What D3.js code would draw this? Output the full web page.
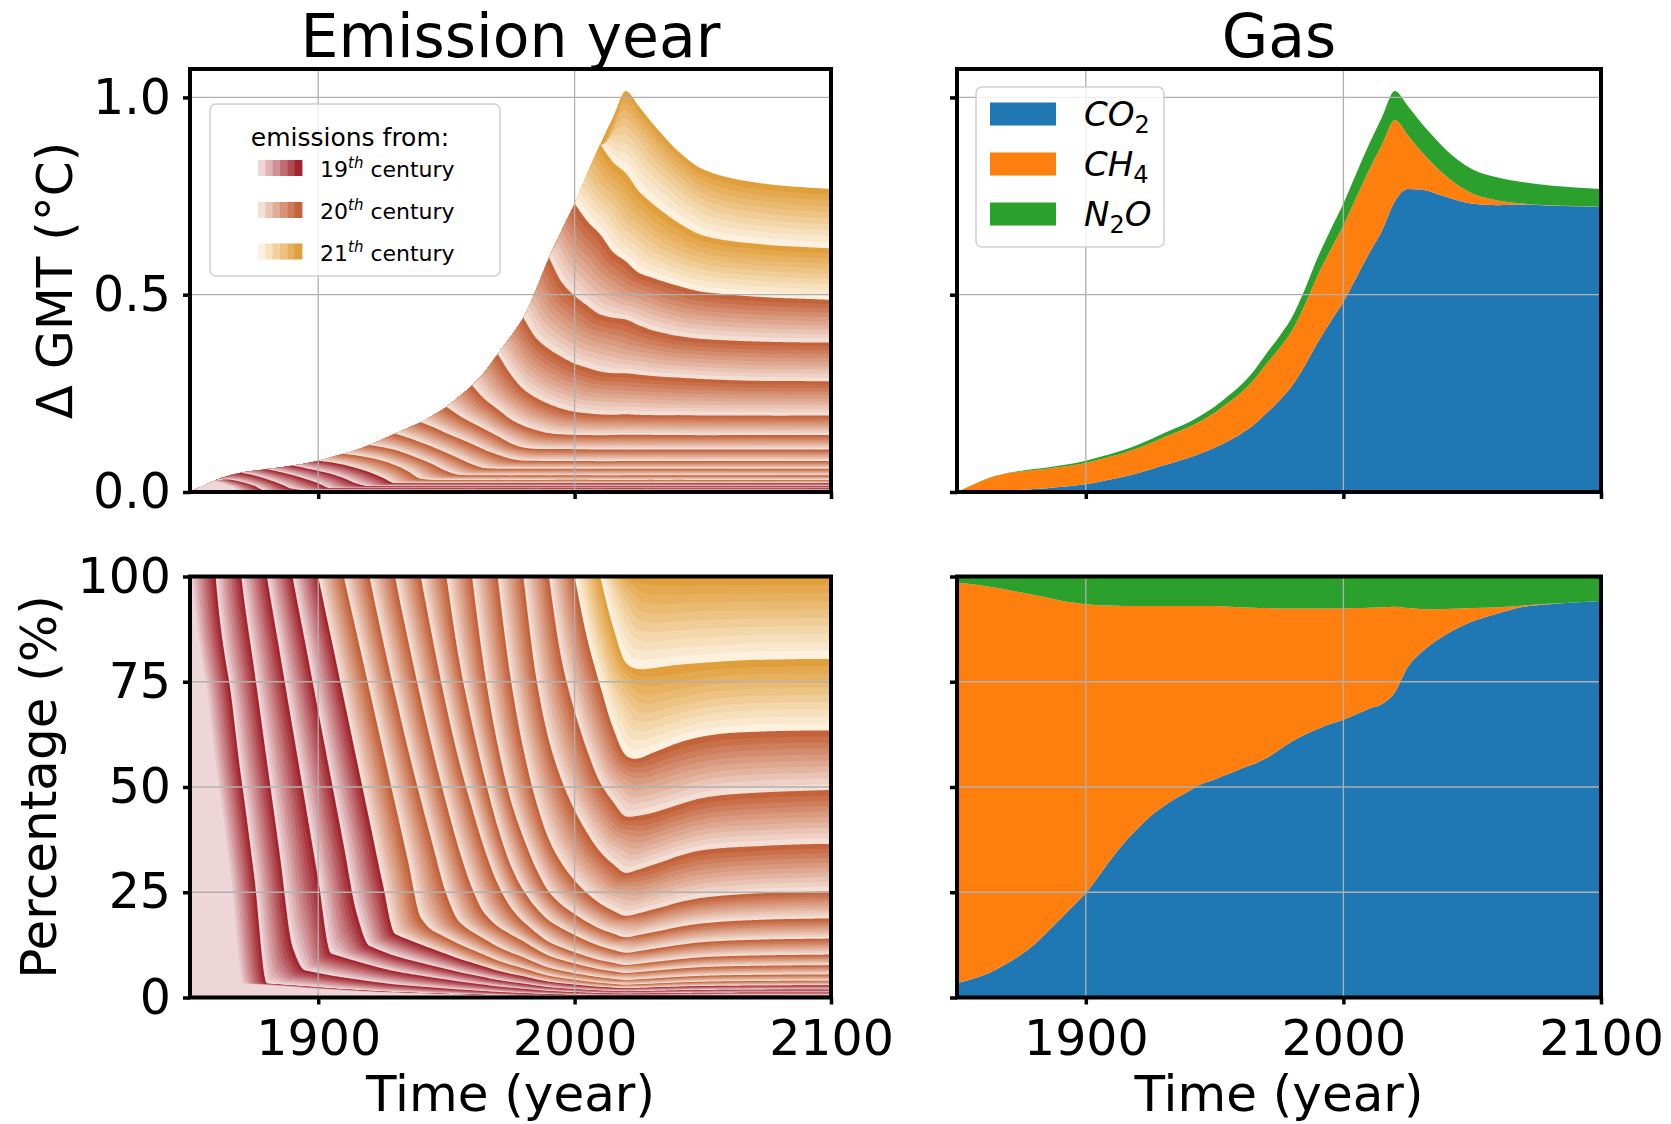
<!DOCTYPE html>
<html><head><meta charset="utf-8">
<script src="https://cdn.jsdelivr.net/npm/d3@7"></script>
<style>
body{margin:0;background:#fff}
svg{display:block}
text{font-family:"DejaVu Sans",sans-serif;fill:#000}
</style>
</head><body>
<svg id="c" width="1671" height="1124"></svg>
<script>
// ---------------- data ----------------
const years = [1850,1855,1860,1865,1870,1875,1880,1885,1890,1895,1900,1905,1910,1915,1920,1925,1930,1935,1940,1945,1950,1955,1960,1965,1970,1975,1980,1985,1990,1995,2000,2005,2010,2015,2020,2025,2030,2035,2040,2050,2060,2070,2080,2090,2100];
// total warming (°C)
const totalGMT = [0,0.015,0.030,0.041,0.049,0.054,0.058,0.062,0.067,0.072,0.079,0.088,0.097,0.107,0.119,0.133,0.148,0.162,0.177,0.195,0.216,0.242,0.270,0.305,0.350,0.393,0.442,0.513,0.594,0.664,0.731,0.807,0.882,0.950,1.016,0.978,0.937,0.900,0.866,0.818,0.797,0.785,0.777,0.772,0.768];
// share (%) of warming caused by emissions before each decade boundary, from that boundary year onward
const cohortYears = [1860,1870,1880,1890,1900,1910,1920,1930,1940,1950,1960,1970,1980,1990,2000,2010];
const pct1860 = [100,76,52,29,3.31,3.10,2.87,2.67,2.43,2.18,1.98,1.80,1.61,1.44,1.30,1.18,1.08,0.98,0.89,0.79,0.71,0.63,0.55,0.49,0.43,0.37,0.32,0.29,0.26,0.24,0.22,0.20,0.19,0.20,0.20,0.21,0.22,0.23,0.24,0.245,0.247,0.249,0.25];
const pct1870 = [100,78,56,34,12,6.39,5.82,5.23,4.74,4.30,3.86,3.46,3.11,2.84,2.60,2.36,2.13,1.90,1.70,1.51,1.32,1.17,1.04,0.90,0.77,0.69,0.63,0.57,0.52,0.48,0.45,0.47,0.49,0.51,0.53,0.56,0.58,0.586,0.59,0.596,0.6];
const pct1880 = [100,82,64,46,28,10.45,9.49,8.60,7.73,6.92,6.22,5.68,5.20,4.72,4.26,3.80,3.40,3.02,2.63,2.34,2.08,1.79,1.55,1.39,1.26,1.14,1.04,0.97,0.91,0.94,0.98,1.02,1.06,1.12,1.15,1.17,1.18,1.19,1.2];
const pct1890 = [100,84,68,52,36,20,12.26,10.98,9.87,9.01,8.25,7.49,6.76,6.03,5.40,4.79,4.18,3.71,3.30,2.85,2.45,2.20,2.00,1.81,1.65,1.53,1.44,1.49,1.56,1.62,1.69,1.78,1.83,1.86,1.88,1.89,1.9];
const pct1900 = [100,85.5,71,56.5,42,27.5,15.07,13.76,12.60,11.44,10.32,9.21,8.25,7.31,6.38,5.66,5.04,4.35,3.75,3.37,3.06,2.77,2.52,2.34,2.19,2.28,2.38,2.48,2.58,2.72,2.80,2.84,2.87,2.89,2.9];
const pct1910 = [100,86.5,73,59.5,46,32.5,19,15.75,14.21,12.68,11.36,10.07,8.78,7.80,6.94,5.99,5.16,4.64,4.21,3.81,3.47,3.22,3.02,3.14,3.28,3.41,3.55,3.75,3.85,3.91,3.95,3.98,4.0];
const pct1920 = [100,85.5,72,59,47,35.5,24.5,18,15.61,13.84,12.07,10.72,9.54,8.23,7.09,6.37,5.78,5.23,4.77,4.43,4.15,4.31,4.50,4.69,4.87,5.16,5.30,5.38,5.43,5.46,5.5];
const pct1930 = [100,85,71,58,46,35,26,19.9,16.90,15.01,13.36,11.52,9.93,8.92,8.10,7.33,6.68,6.21,5.82,6.04,6.31,6.57,6.83,7.22,7.42,7.53,7.61,7.65,7.7];
const pct1940 = [100,84,69,56,45,35,27,21.5,18,15.4,13.2,11.85,10.75,9.72,8.86,8.23,7.72,8.01,8.36,8.70,9.04,9.57,9.83,9.98,10.08,10.14,10.2];
const pct1950 = [100,80,65,52,40.5,31.5,25.5,21.3,18.3,16.4,14.85,13.4,12.2,11.33,10.62,11.02,11.5,11.96,12.43,13.15,13.5,13.71,13.85,13.93,14.0];
const pct1960 = [100,77,60,47,38,30.6,25.1,22.0,19.8,17.9,16.3,15.2,14.3,14.85,15.45,16.05,16.7,17.6,18.1,18.4,18.6,18.7,18.8];
const pct1970 = [100,76,59,46.5,37.5,31.8,27.8,24.7,22.3,20.6,19.4,20.0,20.8,21.6,22.5,23.7,24.3,24.7,24.9,25.1,25.2];
const pct1980 = [100,76,61,51.5,44.5,39,34.6,31.7,29.6,30.4,31.4,32.4,33.5,35.0,35.6,35.9,36.2,36.4,36.5];
const pct1990 = [100,80,68,58.5,51,46.5,43.0,43.2,43.8,44.7,45.7,47.4,48.2,48.6,48.9,49.1,49.3];
const pct2000 = [100,85,74,64,57.5,56.8,58.0,59.2,60.4,62.0,62.8,63.1,63.3,63.4,63.4];
const pct2010 = [100,88,79.5,78.0,78.2,78.6,79.0,79.5,79.9,80.2,80.3,80.4,80.4];
// gas shares (%) of total warming
const co2Share = [3.4,4.2,5.2,6.6,8.3,10.2,12.6,15.5,18.6,21.7,24.8,28.8,33.0,36.8,40.0,43.0,45.3,47.3,49.0,50.7,51.8,53.0,54.3,55.4,56.8,58.8,60.8,62.4,63.8,65.0,66.0,67.3,68.6,69.7,72.5,78.5,81.8,84.3,86.3,89.3,91.2,92.8,93.4,93.8,94.2];
const ch4Share = [95.2,94.0,92.6,90.7,88.5,86.0,83.0,79.5,75.7,72.1,68.6,64.4,60.1,56.2,53.0,50.0,47.7,45.7,44.0,42.3,41.2,39.9,38.4,37.2,35.7,33.6,31.6,30.0,28.6,27.4,26.4,25.2,24.0,23.0,20.3,14.0,10.5,7.9,6.0,3.2,1.5,0.3,0.1,0.05,0];
const n2oShare = [1.4,1.8,2.2,2.7,3.2,3.8,4.4,5.0,5.7,6.2,6.6,6.8,6.9,7.0,7.0,7.0,7.0,7.0,7.0,7.0,7.0,7.1,7.3,7.4,7.5,7.6,7.6,7.6,7.6,7.6,7.6,7.5,7.4,7.3,7.2,7.5,7.7,7.8,7.7,7.5,7.3,6.9,6.5,6.15,5.8];
const gasNames = ["CO","CH","N"];
const gasSubs = ["2","4","2"];
const gasTails = ["","","O"];
const xTicks = [1900,2000,2100];
const yTicksGMT = [0,0.5,1.0];
const yTicksPct = [0,25,50,75,100];
const centuries = ["19","20","21"];

// ---------------- helpers ----------------
function monotone(xs, ys){
  const n = xs.length, d = [], m = new Array(n);
  for(let i=0;i<n-1;i++) d[i]=(ys[i+1]-ys[i])/(xs[i+1]-xs[i]);
  m[0]=d[0]; m[n-1]=d[n-2];
  for(let i=1;i<n-1;i++){
    if(d[i-1]*d[i]<=0) m[i]=0;
    else{const h0=xs[i]-xs[i-1],h1=xs[i+1]-xs[i],w1=2*h1+h0,w2=h1+2*h0;m[i]=(w1+w2)/(w1/d[i-1]+w2/d[i]);}
  }
  return t=>{
    if(t<=xs[0]) return ys[0];
    if(t>=xs[n-1]) return ys[n-1];
    let i=d3.bisectRight(xs,t)-1;
    const h=xs[i+1]-xs[i], s=(t-xs[i])/h, s2=s*s, s3=s2*s;
    return (2*s3-3*s2+1)*ys[i]+(s3-2*s2+s)*h*m[i]+(-2*s3+3*s2)*ys[i+1]+(s3-s2)*h*m[i+1];
  };
}
const Tf = monotone(years,totalGMT);
const pctArrays=[pct1860,pct1870,pct1880,pct1890,pct1900,pct1910,pct1920,pct1930,pct1940,pct1950,pct1960,pct1970,pct1980,pct1990,pct2000,pct2010];
// boundary curves in absolute warming (°C) and as % of the total
const bAbs = cohortYears.map((Y,i)=>{
  const i0=years.indexOf(Y), xs=years.slice(i0);
  if(xs.length!==pctArrays[i].length) console.error("len mismatch",Y,xs.length,pctArrays[i].length);
  const f=monotone(xs,pctArrays[i].map((p,j)=>p/100*totalGMT[i0+j]));
  return t=> t<=Y?Tf(t):Math.min(Tf(t),f(t));
});
const bPct = cohortYears.map((Y,i)=> t=> t<=Y?100:100*bAbs[i](t)/Tf(t));

const svg=d3.select('#c');
const L={x0:190,x1:831}, R={x0:957,x1:1601};
const TOP={y0:69,y1:492}, BOT={y0:576.5,y1:997.5};
const xL=d3.scaleLinear([1850,2100],[L.x0,L.x1]);
const xR=d3.scaleLinear([1850,2100],[R.x0,R.x1]);
const yT=d3.scaleLinear([0,1.072],[TOP.y1,TOP.y0]);
const yB=d3.scaleLinear([0,100],[BOT.y1,BOT.y0]);

const defs=svg.append('defs');
function clip(id,x0,x1,y0,y1){defs.append('clipPath').attr('id',id).append('rect').attr('x',x0).attr('y',y0).attr('width',x1-x0).attr('height',y1-y0);}
clip('cTL',L.x0,L.x1,TOP.y0,TOP.y1);clip('cBL',L.x0,L.x1,BOT.y0,BOT.y1);
clip('cTR',R.x0,R.x1,TOP.y0,TOP.y1);clip('cBR',R.x0,R.x1,BOT.y0,BOT.y1);

// ---------------- emission-year panels ----------------
const lightCols=["#edd5d8","#f3dfd5","#fcf1df"];
const darkCols=["#a3262e","#c4623a","#e19f3c"];
const N=10;
const ts=d3.range(1850,2100.001,0.5);
function buildLayers(fns, topFn){
  const out=[];
  for(let k=0;k<=16;k++){
    const lower = k===0 ? (()=>0) : fns[k-1];
    const upper = k===16 ? topFn : fns[k];
    const dec=1850+10*k, cent= dec<1900?0:(dec<2000?1:2);
    const cmap=d3.interpolateRgb(lightCols[cent],darkCols[cent]);
    for(let j=0;j<N;j++){
      const f=(j+1)/N;
      const top=ts.map(t=>{
        const lo=lower(t), up=upper(t);
        if(j===N-1) return up;
        let s;
        if(k===0) s=upper(t+10*(1-f));
        else if(k===16) s=(1-f)*lower(t-10*f)+f*up;
        else s=(1-f)*lower(t-10*f)+f*upper(t+10*(1-f));
        return Math.max(lo,Math.min(up,s));
      });
      out.push({top,color:cmap(j/(N-1))});
    }
  }
  return out;
}
const layersTL=buildLayers(bAbs,Tf);
const layersBL=buildLayers(bPct,()=>100);
const gTL=svg.append('g').attr('clip-path','url(#cTL)');
const gBL=svg.append('g').attr('clip-path','url(#cBL)');
const areaTL=d3.area().x((d,i)=>xL(ts[i])).y0(yT(0)).y1(d=>yT(d));
const areaBL=d3.area().x((d,i)=>xL(ts[i])).y0(yB(0)).y1(d=>yB(isFinite(d)?d:100));
for(let i=layersTL.length-1;i>=0;i--){
  gTL.append('path').attr('d',areaTL(layersTL[i].top)).attr('fill',layersTL[i].color);
  gBL.append('path').attr('d',areaBL(layersBL[i].top)).attr('fill',layersBL[i].color);
}

// ---------------- gas panels ----------------
const gasCols=["#1f77b4","#ff7f0e","#2ca02c"];
const shares=[co2Share,ch4Share,n2oShare];
const cumPct=[];
let acc=years.map(()=>0);
shares.forEach(sh=>{
  const lo=acc.slice(); acc=acc.map((a,i)=>a+sh[i]);
  cumPct.push({lo,hi:acc.slice()});
});
const gTR=svg.append('g').attr('clip-path','url(#cTR)');
const gBR=svg.append('g').attr('clip-path','url(#cBR)');
cumPct.forEach((c,g)=>{
  const aT=d3.area().x((d,i)=>xR(years[i])).y0((d,i)=>yT(c.lo[i]/100*totalGMT[i])).y1((d,i)=>yT(c.hi[i]/100*totalGMT[i])).curve(d3.curveMonotoneX);
  const aB=d3.area().x((d,i)=>xR(years[i])).y0((d,i)=>yB(c.lo[i])).y1((d,i)=>yB(c.hi[i])).curve(d3.curveMonotoneX);
  gTR.append('path').attr('d',aT(years)).attr('fill',gasCols[g]);
  gBR.append('path').attr('d',aB(years)).attr('fill',gasCols[g]);
});

// ---------------- grids, axes, frames ----------------
function grid(x,y,xt,yt){
  const g=svg.append('g').attr('stroke','#b0b0b0').attr('stroke-width',1.3);
  xt.forEach(v=>g.append('line').attr('x1',x(v)).attr('x2',x(v)).attr('y1',y.range()[0]).attr('y2',y.range()[1]));
  yt.forEach(v=>g.append('line').attr('y1',y(v)).attr('y2',y(v)).attr('x1',x.range()[0]).attr('x2',x.range()[1]));
}
grid(xL,yT,[1900,2000],[0.5,1.0]);grid(xL,yB,[1900,2000],[25,50,75]);
grid(xR,yT,[1900,2000],[0.5,1.0]);grid(xR,yB,[1900,2000],[25,50,75]);

function axes(x,y,yt,yfmt,showY,showX){
  const ay=svg.append('g').attr('transform',`translate(${x.range()[0]},0)`)
    .call(d3.axisLeft(y).tickValues(yt).tickFormat(yfmt).tickSize(7).tickPadding(12));
  const ax=svg.append('g').attr('transform',`translate(0,${y.range()[0]})`)
    .call(d3.axisBottom(x).tickValues(xTicks).tickFormat(d3.format('d')).tickSize(7).tickPadding(16));
  if(!showY) ay.selectAll('text').remove();
  if(!showX) ax.selectAll('text').remove();
  [ay,ax].forEach(a=>{a.select('.domain').remove();a.selectAll('line').attr('stroke','#000').attr('stroke-width',3.5);
    a.selectAll('text').attr('font-size',49).attr('font-family','DejaVu Sans').attr('fill','#000');});
  svg.append('rect').attr('x',x.range()[0]).attr('y',y.range()[1]).attr('width',x.range()[1]-x.range()[0]).attr('height',y.range()[0]-y.range()[1])
    .attr('fill','none').attr('stroke','#000').attr('stroke-width',4);
}
axes(xL,yT,yTicksGMT,d3.format('.1f'),true,false);
axes(xL,yB,yTicksPct,d3.format('d'),true,true);
axes(xR,yT,yTicksGMT,d3.format('.1f'),false,false);
axes(xR,yB,yTicksPct,d3.format('d'),false,true);

// ---------------- legends ----------------
const lg=svg.append('g');
lg.append('rect').attr('x',210).attr('y',104).attr('width',290).attr('height',172).attr('rx',6)
  .attr('fill','rgba(255,255,255,0.8)').attr('stroke','#d0d0d0').attr('stroke-width',1.5);
lg.append('text').attr('x',350).attr('y',146).attr('text-anchor','middle').attr('font-size',25).text('emissions from:');
centuries.forEach((c,i)=>{
  const cy=[168,210,251.5][i];
  const cmap=d3.interpolateRgb(lightCols[i],darkCols[i]);
  for(let s=0;s<6;s++) lg.append('rect').attr('x',258+s*44/6).attr('y',cy-8).attr('width',44/6+0.4).attr('height',16).attr('fill',cmap(s/5));
  const t=lg.append('text').attr('x',320).attr('y',cy+9).attr('font-size',22);
  t.append('tspan').text(c);
  t.append('tspan').attr('dy',-9).attr('font-size',15).attr('font-style','italic').text('th');
  t.append('tspan').attr('dy',9).text(' century');
});
const lg2=svg.append('g');
lg2.append('rect').attr('x',976).attr('y',87).attr('width',188).attr('height',160).attr('rx',6)
  .attr('fill','rgba(255,255,255,0.8)').attr('stroke','#d0d0d0').attr('stroke-width',1.5);
gasNames.forEach((n,i)=>{
  const cy=[114,164,214][i];
  lg2.append('rect').attr('x',990).attr('y',cy-11.5).attr('width',66).attr('height',23).attr('fill',gasCols[i]);
  const t=lg2.append('text').attr('x',1084).attr('y',cy+12).attr('font-size',34).attr('font-style','italic');
  t.append('tspan').text(n);
  t.append('tspan').attr('dy',7).attr('font-size',24).attr('font-style','normal').text(gasSubs[i]);
  if(gasTails[i]) t.append('tspan').attr('dy',-7).text(gasTails[i]);
});

// ---------------- titles and labels ----------------
svg.append('text').attr('x',510.5).attr('y',57).attr('text-anchor','middle').attr('font-size',60).text('Emission year');
svg.append('text').attr('x',1279).attr('y',57).attr('text-anchor','middle').attr('font-size',60).text('Gas');
svg.append('text').attr('x',510.5).attr('y',1111).attr('text-anchor','middle').attr('font-size',50).text('Time (year)');
svg.append('text').attr('x',1279).attr('y',1111).attr('text-anchor','middle').attr('font-size',50).text('Time (year)');
svg.append('text').attr('transform','translate(72,280.5) rotate(-90)').attr('text-anchor','middle').attr('font-size',50).text('Δ GMT (°C)');
svg.append('text').attr('transform','translate(56,787) rotate(-90)').attr('text-anchor','middle').attr('font-size',50).text('Percentage (%)');
</script>
</body></html>
